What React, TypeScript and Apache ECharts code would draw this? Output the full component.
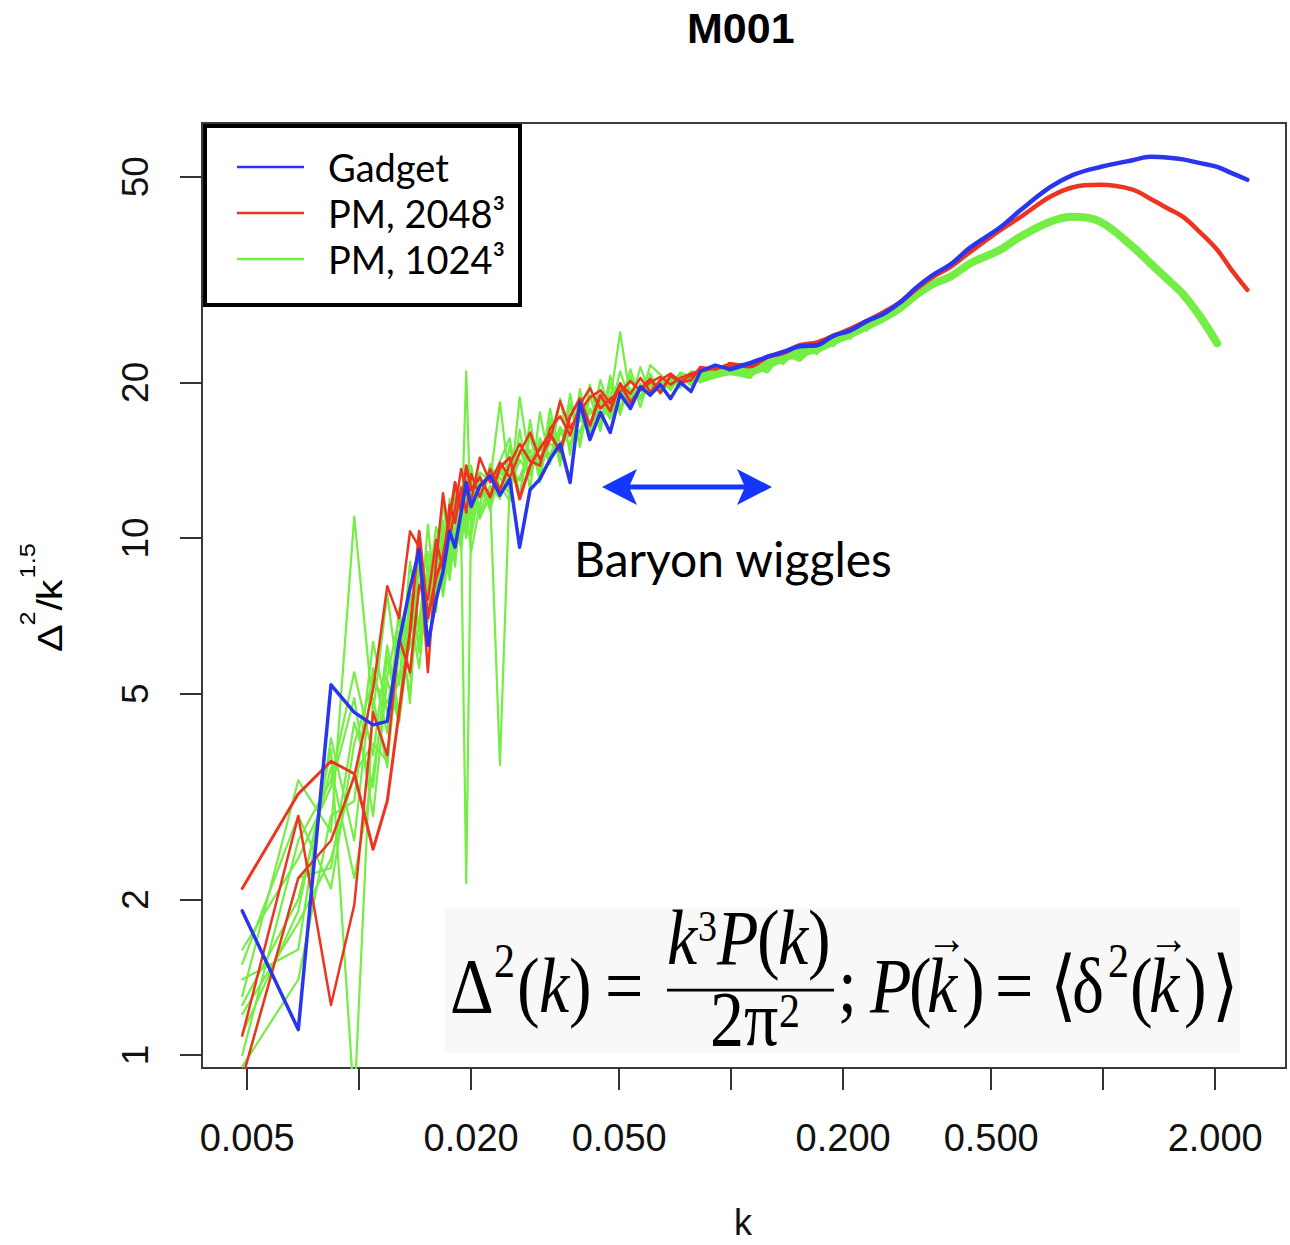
import React, { useEffect, useRef } from 'react';
import * as echarts from 'echarts';

// ---------- data ----------
const K_LOW = [0.00485, 0.00686, 0.0084, 0.0097, 0.0109, 0.0119, 0.0128, 0.0137, 0.0145, 0.0153, 0.0161, 0.0168, 0.0175, 0.0181, 0.0188, 0.0194, 0.0200, 0.0211, 0.0225, 0.0239, 0.0254, 0.0270, 0.0288, 0.0306, 0.0326, 0.0347, 0.0369, 0.0392, 0.0417, 0.0445, 0.0473, 0.0503, 0.0536, 0.0570, 0.0606, 0.0645, 0.0687, 0.0730, 0.0780, 0.0826, 0.0906, 0.0990];
const K_HIGH = [0.1125, 0.125, 0.138, 0.153, 0.170, 0.188, 0.209, 0.232, 0.256, 0.285, 0.316, 0.349, 0.388, 0.44, 0.529, 0.60, 0.72, 0.83, 0.982, 1.2, 1.338, 1.5, 1.64, 1.823, 2.025, 2.2, 2.44];

const BLUE_LOW = [1.9, 1.12, 5.2, 4.6, 4.35, 4.42, 6.3, 8.0, 9.5, 6.2, 7.6, 8.6, 10.3, 9.6, 11.2, 12.8, 11.5, 12.6, 13.2, 12.1, 13.0, 9.6, 12.4, 13.0, 14.2, 15.2, 12.8, 18.3, 15.5, 17.5, 16.0, 19.0, 17.8, 19.6, 18.9, 19.8, 18.6, 20.0, 19.2, 21.0, 21.6, 21.2];
const BLUE_HIGH = [21.8, 22.4, 22.9, 23.5, 23.6, 24.6, 25.2, 26.3, 27.1, 28.6, 30.6, 32.3, 33.8, 36.5, 39.9, 43.1, 47.7, 50.4, 52.2, 53.8, 54.6, 54.4, 54.0, 53.1, 52.2, 50.9, 49.3];

const RED_LOW_1 = [2.1, 3.2, 3.7, 3.5, 2.5, 3.1, 4.6, 6.6, 10.3, 7.0, 8.4, 9.2, 10.9, 12.8, 11.3, 13.8, 12.4, 13.1, 12.0, 13.7, 14.3, 11.9, 13.8, 14.9, 15.9, 14.7, 17.2, 18.6, 16.5, 18.9, 17.6, 19.9, 18.3, 19.4, 20.3, 19.1, 20.6, 20.0, 20.2, 21.4, 21.2, 21.7];
const RED_HIGH = [21.5, 22.4, 22.8, 23.6, 23.9, 24.6, 25.4, 26.3, 27.3, 28.6, 30.4, 32.0, 33.4, 35.8, 39.4, 41.8, 45.7, 47.7, 48.2, 47.2, 45.3, 43.3, 41.8, 39.0, 36.1, 33.2, 30.2];
const RED_LOW_2 = [1.09, 2.9, 1.25, 1.95, 4.6, 3.8, 6.4, 5.5, 8.1, 7.6, 9.9, 8.7, 11.6, 10.7, 12.5, 11.2, 13.3, 12.0, 13.6, 12.4, 13.9, 15.2, 14.1, 13.8, 16.3, 17.2, 15.8, 18.1, 19.5, 17.8, 18.6, 19.2, 20.1, 19.3, 20.0, 20.5, 19.8, 20.4, 20.8, 21.1, 21.5, 21.4];
const RED_LOW_3 = [0.9, 2.2, 2.6, 3.46, 5.1, 8.07, 7.0, 10.3, 9.6, 5.5, 9.0, 12.2, 10.0, 11.4, 13.6, 12.2, 11.8, 14.3, 12.8, 14.0, 13.1, 14.6, 16.0, 14.2, 15.5, 18.4, 16.3, 17.6, 18.7, 19.3, 18.2, 19.8, 19.0, 20.4, 19.2, 20.2, 20.8, 20.1, 20.6, 21.0, 21.3, 21.6];

const GREEN_LOW_1 = [1.0, 2.6, 3.4, 5.5, 3.8, 6.2, 4.6, 7.9, 6.0, 9.1, 7.2, 10.4, 8.6, 11.6, 9.7, 12.1, 10.6, 13.2, 11.3, 13.5, 12.4, 14.8, 13.3, 15.6, 14.2, 16.4, 15.1, 17.4, 16.2, 18.6, 17.2, 19.5, 18.0, 19.9, 18.8, 20.3, 19.3, 20.6, 19.7, 21.1, 20.5, 21.6];
const GREEN_LOW_2 = [1.4, 1.6, 4.1, 2.6, 5.6, 4.2, 7.3, 5.4, 8.8, 6.9, 10.1, 8.0, 11.9, 9.2, 12.6, 10.4, 13.8, 11.2, 12.6, 11.9, 15.1, 11.9, 15.9, 12.8, 17.0, 13.8, 18.2, 15.0, 18.9, 16.1, 19.9, 17.3, 20.6, 17.9, 20.8, 19.0, 20.4, 19.5, 20.9, 20.0, 21.4, 20.8];
const GREEN_LOW_3 = [0.9, 2.2, 2.3, 4.4, 3.3, 5.9, 4.4, 7.6, 6.3, 8.4, 7.6, 9.9, 8.3, 10.2, 9.9, 21.0, 10.1, 12.5, 11.5, 13.8, 12.6, 14.2, 13.2, 15.3, 14.0, 16.0, 15.2, 17.3, 16.3, 18.1, 17.0, 19.2, 18.2, 19.6, 18.9, 20.0, 19.4, 20.5, 19.9, 20.8, 20.6, 21.3];
const GREEN_LOW_4 = [1.3, 3.4, 2.7, 11.0, 4.6, 7.8, 5.2, 9.0, 6.6, 10.6, 7.4, 11.9, 9.1, 12.8, 10.2, 2.15, 11.3, 12.9, 11.6, 13.4, 12.8, 14.1, 13.5, 14.9, 14.1, 16.3, 15.0, 17.0, 16.0, 18.4, 17.5, 18.9, 18.3, 19.8, 19.0, 19.9, 19.5, 20.7, 19.8, 21.0, 20.7, 21.5];
const GREEN_LOW_5 = [1.1, 1.9, 3.9, 0.8, 4.9, 3.6, 6.6, 5.0, 8.2, 6.9, 9.4, 8.1, 10.9, 8.8, 11.6, 10.0, 12.9, 11.0, 12.0, 3.64, 12.9, 13.1, 14.8, 13.3, 15.8, 14.8, 16.7, 15.9, 17.5, 17.0, 18.6, 17.7, 19.2, 18.6, 19.9, 19.1, 20.1, 20.0, 20.5, 20.3, 21.0, 21.4];
const GREEN_LOW_6 = [0.95, 1.4, 2.9, 3.1, 6.3, 4.6, 5.3, 6.2, 7.0, 8.7, 8.1, 8.9, 10.5, 10.9, 9.5, 12.0, 11.0, 12.6, 13.5, 12.2, 13.6, 12.9, 14.4, 14.0, 15.2, 15.0, 16.3, 16.1, 17.8, 16.9, 18.5, 25.0, 18.6, 19.4, 19.8, 19.3, 20.2, 19.7, 20.4, 20.6, 20.8, 21.0];
const GREEN_LOW_7 = [1.6, 2.4, 3.3, 4.9, 2.9, 5.4, 7.0, 4.8, 9.6, 7.2, 8.8, 10.8, 9.0, 10.4, 11.6, 10.1, 12.2, 13.4, 12.9, 18.3, 12.7, 14.7, 14.3, 14.0, 16.8, 15.3, 15.8, 17.2, 16.6, 18.0, 18.8, 18.0, 19.0, 19.3, 19.2, 20.1, 19.6, 20.2, 20.3, 20.4, 21.1, 20.9];
const GREEN_LOW_8 = [1.2, 1.8, 2.4, 3.5, 4.0, 3.7, 6.0, 7.2, 5.6, 8.3, 9.6, 7.7, 9.5, 11.3, 10.6, 11.4, 9.4, 11.6, 13.5, 13.1, 12.1, 18.7, 13.9, 15.1, 14.5, 15.9, 16.4, 16.0, 17.6, 17.4, 18.0, 18.7, 19.4, 18.9, 19.6, 19.7, 20.0, 20.3, 20.0, 20.6, 20.7, 21.4];
const GREEN_LOW_9 = [1.5, 2.9, 2.1, 4.0, 5.3, 4.8, 5.9, 6.9, 7.9, 9.4, 8.2, 9.0, 10.6, 9.7, 12.3, 11.0, 12.3, 11.5, 13.9, 12.6, 11.8, 16.2, 12.4, 17.5, 13.9, 18.6, 14.5, 19.4, 16.0, 20.2, 17.6, 21.0, 18.3, 21.4, 19.0, 19.5, 20.6, 19.9, 21.0, 20.9, 21.2, 21.8];
const GREEN_LOW_10 = [1.25, 2.0, 3.6, 2.2, 3.5, 5.3, 4.4, 6.5, 8.6, 7.8, 10.5, 9.5, 8.9, 12.1, 11.1, 13.0, 12.6, 10.9, 12.2, 14.1, 15.6, 12.0, 16.9, 13.2, 17.8, 14.3, 19.0, 15.2, 19.8, 16.4, 20.6, 17.7, 21.2, 18.5, 21.6, 20.7, 19.8, 20.9, 20.5, 21.3, 20.9, 21.5];
// continuation of six realizations over the first nine K_HIGH points
const GREEN_MID_1 = [21.8, 21.0, 22.9, 22.2, 23.8, 23.5, 25.3, 25.2, 27.0];
const GREEN_MID_2 = [20.4, 22.3, 21.7, 23.4, 22.7, 24.6, 24.3, 26.1, 26.2];
const GREEN_MID_3 = [21.5, 20.9, 22.8, 22.4, 23.7, 23.6, 25.1, 25.4, 26.9];
const GREEN_MID_4 = [20.6, 22.0, 21.8, 23.3, 22.8, 24.4, 24.6, 25.9, 26.4];
const GREEN_MID_5 = [21.9, 21.3, 22.6, 22.0, 23.6, 24.2, 24.5, 26.0, 26.7];
const GREEN_MID_6 = [20.5, 21.9, 22.1, 23.1, 23.0, 23.8, 25.0, 25.5, 26.5];
const GREEN_BAND_LOW = [20.3, 20.7, 21.0];
const GREEN_HIGH = [21.0, 21.6, 22.3, 22.8, 23.2, 24.0, 24.8, 25.7, 26.6, 27.9, 29.6, 31.0, 32.0, 34.0, 36.1, 38.3, 40.9, 41.8, 40.9, 36.6, 34.0, 31.5, 29.6, 26.8, 23.8];

const X_TICKS = [0.005, 0.01, 0.02, 0.05, 0.1, 0.2, 0.5, 1, 2];
const X_LABELS = [0.005, 0.02, 0.05, 0.2, 0.5, 2];
const Y_TICKS = [1, 2, 5, 10, 20, 50];
const NAME_BLUE = 'Gadget';
const NAME_RED = 'PM, 2048³';
const NAME_GREEN = 'PM, 1024³';

// ---------- styling ----------
const C_BLUE = '#2a36ee';
const C_RED = '#ee3420';
const C_GREEN = '#74ee44';
const SANS = "'Liberation Sans', Arial, sans-serif";
const SERIF = "'Liberation Serif', 'DejaVu Serif', serif";
const GILL = "Lato, 'Noto Sans', sans-serif";

const pts = (ks: number[], vs: number[]) => vs.map((v, i) => [Math.log10(ks[i]), Math.log10(v)]);

const line = (name: string, data: number[][], color: string, width: number, smooth = false) => ({
  type: 'line',
  name,
  data,
  symbol: 'none',
  showSymbol: false,
  silent: true,
  clip: true,
  smooth: smooth ? 0.35 : false,
  lineStyle: { color, width, join: 'round', cap: 'round' },
  itemStyle: { color },
  emphasis: { disabled: true },
});

// formula pieces: [text, x, dy from baseline, size, italic]
const FORMULA: [string, number, number, number, boolean][] = [
  ['Δ', 450, 0, 68, false],
  ['2', 494, -30, 42, false],
  ['(', 517, 0, 68, false],
  ['k', 539, 0, 68, true],
  [')', 569, 0, 68, false],
  ['=', 605, 0, 68, false],
  ['k', 667, -41, 68, true],
  ['3', 698, -61, 38, false],
  ['P', 717, -41, 68, true],
  ['(', 757, -41, 68, false],
  ['k', 778, -41, 68, true],
  [')', 808, -41, 68, false],
  ['2', 710, 29, 68, false],
  ['π', 744, 29, 68, false],
  ['2', 779, 13, 42, false],
  [';', 838, 0, 68, false],
  ['P', 870, 0, 68, true],
  ['(', 909, 0, 68, false],
  ['k', 927, 0, 68, true],
  ['→', 927, -50, 40, false],
  [')', 962, 0, 68, false],
  ['=', 995, 0, 68, false],
  ['⟨', 1050, 0, 68, false],
  ['δ', 1072, 0, 68, false],
  ['2', 1108, -30, 42, false],
  ['(', 1130, 0, 68, false],
  ['k', 1149, 0, 68, true],
  ['→', 1149, -50, 40, false],
  [')', 1184, 0, 68, false],
  ['⟩', 1212, 0, 68, false],
];

// y axis title pieces (local coords of rotated group): [text, x, baselineY, size]
const YTITLE: [string, number, number, number][] = [
  ['Δ', 0, 62, 36],
  ['2', 23, 35, 22],
  ['/', 36, 62, 36],
  ['k', 45, 62, 36],
  ['1.5', 64, 35, 22],
];

function buildOption() {
  const series: any[] = [];
  const greens = [GREEN_LOW_1, GREEN_LOW_2, GREEN_LOW_3, GREEN_LOW_4, GREEN_LOW_5, GREEN_LOW_6, GREEN_LOW_7, GREEN_LOW_8, GREEN_LOW_9, GREEN_LOW_10];
  const mids = [GREEN_MID_1, GREEN_MID_2, GREEN_MID_3, GREEN_MID_4, GREEN_MID_5, GREEN_MID_6];
  greens.forEach((g, i) => {
    const mid = mids[i];
    const ks = mid ? K_LOW.concat(K_HIGH.slice(0, mid.length)) : K_LOW;
    const vs = mid ? g.concat(mid) : g;
    series.push(line(NAME_GREEN, pts(ks, vs), C_GREEN, 2.2));
  });
  series.push(line(NAME_GREEN, pts(K_LOW.slice(-3).concat(K_HIGH), GREEN_BAND_LOW.concat(GREEN_HIGH)), C_GREEN, 8, true));
  series.push(line(NAME_RED, pts(K_LOW, RED_LOW_2), C_RED, 2.5));
  series.push(line(NAME_RED, pts(K_LOW, RED_LOW_3), C_RED, 2.5));
  series.push(line(NAME_RED, pts(K_LOW, RED_LOW_1), C_RED, 3));
  series.push(line(NAME_RED, pts(K_LOW.slice(-1).concat(K_HIGH), RED_LOW_1.slice(-1).concat(RED_HIGH)), C_RED, 4.5, true));
  series.push(line(NAME_BLUE, pts(K_LOW, BLUE_LOW), C_BLUE, 3.5));
  series.push(line(NAME_BLUE, pts(K_LOW.slice(-1).concat(K_HIGH), BLUE_LOW.slice(-1).concat(BLUE_HIGH)), C_BLUE, 4.5, true));

  const baseline = 1012;
  const formulaChildren: any[] = FORMULA.map(([t, x, dy, size, italic]) => ({
    type: 'text',
    z: 6,
    x,
    y: dy - 0.34 * size,
    style: {
      text: t,
      fill: '#000',
      font: `${italic ? 'italic ' : ''}${size}px ${SERIF}`,
      align: 'left',
      verticalAlign: 'middle',
    },
  }));
  formulaChildren.push({
    type: 'line',
    z: 6,
    shape: { x1: 667, y1: -19, x2: 834, y2: -19 },
    style: { stroke: '#000', lineWidth: 2.5 },
  });

  const yTitleChildren = YTITLE.map(([t, x, base, size]) => ({
    type: 'text',
    z: 6,
    x,
    y: base - 0.3465 * size,
    style: { text: t, fill: '#000', font: `${size}px ${SANS}`, align: 'left', verticalAlign: 'middle' },
  }));

  return {
    animation: false,
    backgroundColor: '#fff',
    title: {
      text: 'M001',
      left: 687,
      top: 6,
      padding: 0,
      textStyle: { fontFamily: SANS, fontWeight: 'bold', fontSize: 43, color: '#000' },
    },
    grid: {
      left: 202,
      top: 123,
      width: 1084,
      height: 945,
      show: true,
      borderColor: '#3a3a3a',
      borderWidth: 2,
      backgroundColor: 'transparent',
      containLabel: false,
    },
    legend: {
      data: [NAME_BLUE, NAME_RED, NAME_GREEN],
      orient: 'vertical',
      left: 237,
      top: 144,
      padding: 0,
      itemGap: 0,
      itemWidth: 67,
      itemHeight: 2.5,
      icon: 'rect',
      selectedMode: false,
      z: 10,
      textStyle: { fontFamily: GILL, fontSize: 38, color: '#000', lineHeight: 46, padding: [0, 0, 0, 19] },
    },
    xAxis: {
      type: 'value',
      min: -2.4225,
      max: 0.4914,
      axisLine: { show: false, onZero: false },
      splitLine: { show: false },
      axisTick: {
        show: true,
        inside: false,
        length: 22,
        customValues: X_TICKS.map((v) => Math.log10(v)),
        lineStyle: { color: '#333', width: 2 },
      },
      axisLabel: {
        customValues: X_LABELS.map((v) => Math.log10(v)),
        formatter: (v: number) => Math.pow(10, v).toFixed(3),
        margin: 51,
        fontFamily: SANS,
        fontSize: 38,
        color: '#111',
      },
    },
    yAxis: {
      type: 'value',
      min: -0.0251,
      max: 1.8027,
      axisLine: { show: false, onZero: false },
      splitLine: { show: false },
      axisTick: {
        show: true,
        inside: false,
        length: 22,
        customValues: Y_TICKS.map((v) => Math.log10(v)),
        lineStyle: { color: '#333', width: 2 },
      },
      axisLabel: {
        customValues: Y_TICKS.map((v) => Math.log10(v)),
        formatter: (v: number) => String(Math.round(Math.pow(10, v))),
        rotate: 90,
        margin: 48,
        fontFamily: SANS,
        fontSize: 37,
        color: '#111',
      },
    },
    series,
    graphic: [
      // legend frame
      {
        type: 'rect',
        z: 3,
        shape: { x: 205, y: 126, width: 315, height: 179 },
        style: { fill: '#fff', stroke: '#000', lineWidth: 4 },
      },
      // formula panel
      {
        type: 'rect',
        z: 3,
        shape: { x: 445, y: 908, width: 795, height: 145 },
        style: { fill: '#f8f8f8' },
      },
      {
        type: 'group',
        z: 6,
        x: 0,
        y: baseline,
        scaleY: 1.15,
        children: formulaChildren,
      },
      // baryon wiggles arrow
      {
        type: 'line',
        z: 4,
        shape: { x1: 626, y1: 487, x2: 748, y2: 487 },
        style: { stroke: '#1436ff', lineWidth: 5 },
      },
      {
        type: 'polygon',
        z: 4,
        shape: { points: [[602, 487], [637, 469], [629, 487], [637, 505]] },
        style: { fill: '#1436ff' },
      },
      {
        type: 'polygon',
        z: 4,
        shape: { points: [[772, 487], [737, 469], [745, 487], [737, 505]] },
        style: { fill: '#1436ff' },
      },
      {
        type: 'text',
        z: 4,
        x: 574,
        y: 577 - 0.387 * 48,
        style: { text: 'Baryon wiggles', fill: '#000', font: `48px ${GILL}`, align: 'left', verticalAlign: 'middle' },
      },
      // x axis title
      {
        type: 'text',
        z: 4,
        x: 743,
        y: 1222,
        style: { text: 'k', fill: '#111', font: `36px ${SANS}`, align: 'center', verticalAlign: 'middle' },
      },
      // y axis title
      {
        type: 'group',
        z: 6,
        x: 0,
        y: 652,
        rotation: Math.PI / 2,
        scaleX: 1.15,
        children: yTitleChildren,
      },
    ],
  };
}

export default function App() {
  const ref = useRef<HTMLDivElement>(null);
  useEffect(() => {
    if (!ref.current) return;
    const chart = echarts.init(ref.current, undefined, { renderer: 'svg', width: 1290, height: 1245 });
    chart.setOption(buildOption() as any);
    return () => chart.dispose();
  }, []);
  return (
    <div
      ref={ref}
      style={{ position: 'absolute', left: 0, top: 0, width: 1290, height: 1245, background: '#fff' }}
    />
  );
}
